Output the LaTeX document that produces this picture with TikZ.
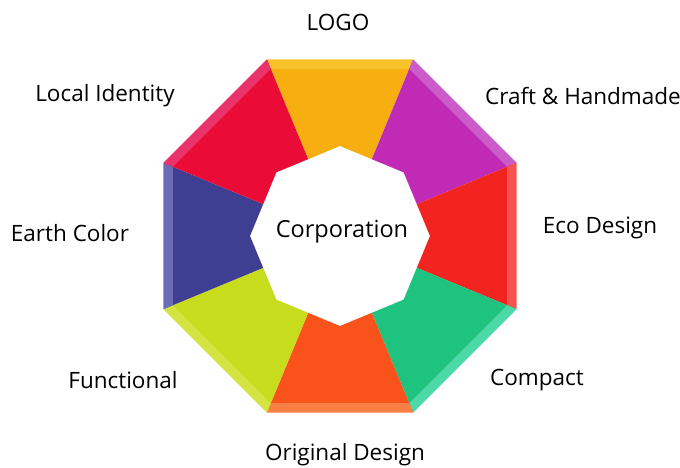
\documentclass[tikz,border=0pt]{standalone}
\usepackage{fontspec}
\setmainfont{Open Sans}
\definecolor{cLogo}{HTML}{F6AE10}\definecolor{sLogo}{HTML}{F8C22A}
\definecolor{cCraft}{HTML}{C12AB5}\definecolor{sCraft}{HTML}{CB5BC6}
\definecolor{cEco}{HTML}{F22420}\definecolor{sEco}{HTML}{F4534F}
\definecolor{cComp}{HTML}{1DC37F}\definecolor{sComp}{HTML}{4DD8A8}
\definecolor{cOrig}{HTML}{F9531B}\definecolor{sOrig}{HTML}{FA7F45}
\definecolor{cFunc}{HTML}{C7DC1D}\definecolor{sFunc}{HTML}{D2E342}
\definecolor{cEarth}{HTML}{3E3F92}\definecolor{sEarth}{HTML}{6A6CB5}
\definecolor{cLocal}{HTML}{EA0C36}\definecolor{sLocal}{HTML}{E9336A}
\def\Ro{191}
\def\Rs{181}
\def\Ri{90}
\def\Ra{83.15}
\newcommand{\segpiece}[3]{%
  \fill[#2] (#1-22.5:\Ro) -- (#1+22.5:\Ro) -- (#1+22.5:\Ra) -- (#1:\Ri) -- (#1-22.5:\Ra) -- cycle;
  \fill[#3] (#1-22.5:\Ro) -- (#1+22.5:\Ro) -- (#1+22.5:\Rs) -- (#1-22.5:\Rs) -- cycle;
}
\tikzset{lbl/.style={font=\fontsize{22.5}{26}\selectfont, text=black, inner sep=0pt}}
\begin{document}
\begin{tikzpicture}[x=1pt,y=1pt]
\useasboundingbox (0,0) rectangle (680,468);
\begin{scope}[shift={(340,232)}]
  \segpiece{90}{cLogo}{sLogo}
  \segpiece{45}{cCraft}{sCraft}
  \segpiece{0}{cEco}{sEco}
  \segpiece{-45}{cComp}{sComp}
  \segpiece{-90}{cOrig}{sOrig}
  \segpiece{-135}{cFunc}{sFunc}
  \segpiece{180}{cEarth}{sEarth}
  \segpiece{135}{cLocal}{sLocal}
\end{scope}
\node[lbl, font=\fontsize{23.5}{27}\selectfont] (corp) at (342,236) {Corporation};
\node[lbl] (logo) at (338,446) {LOGO};
\node[lbl] (local) at (105,372) {Local Identity};
\node[lbl] (craft) at (583,372) {Craft \& Handmade};
\node[lbl] (earth) at (70,235) {Earth Color};
\node[lbl] (eco) at (600,240) {Eco Design};
\node[lbl] (func) at (123,88) {Functional};
\node[lbl] (comp) at (537,88) {Compact};
\node[lbl] (orig) at (345,13) {Original Design};
\end{tikzpicture}
\end{document}
